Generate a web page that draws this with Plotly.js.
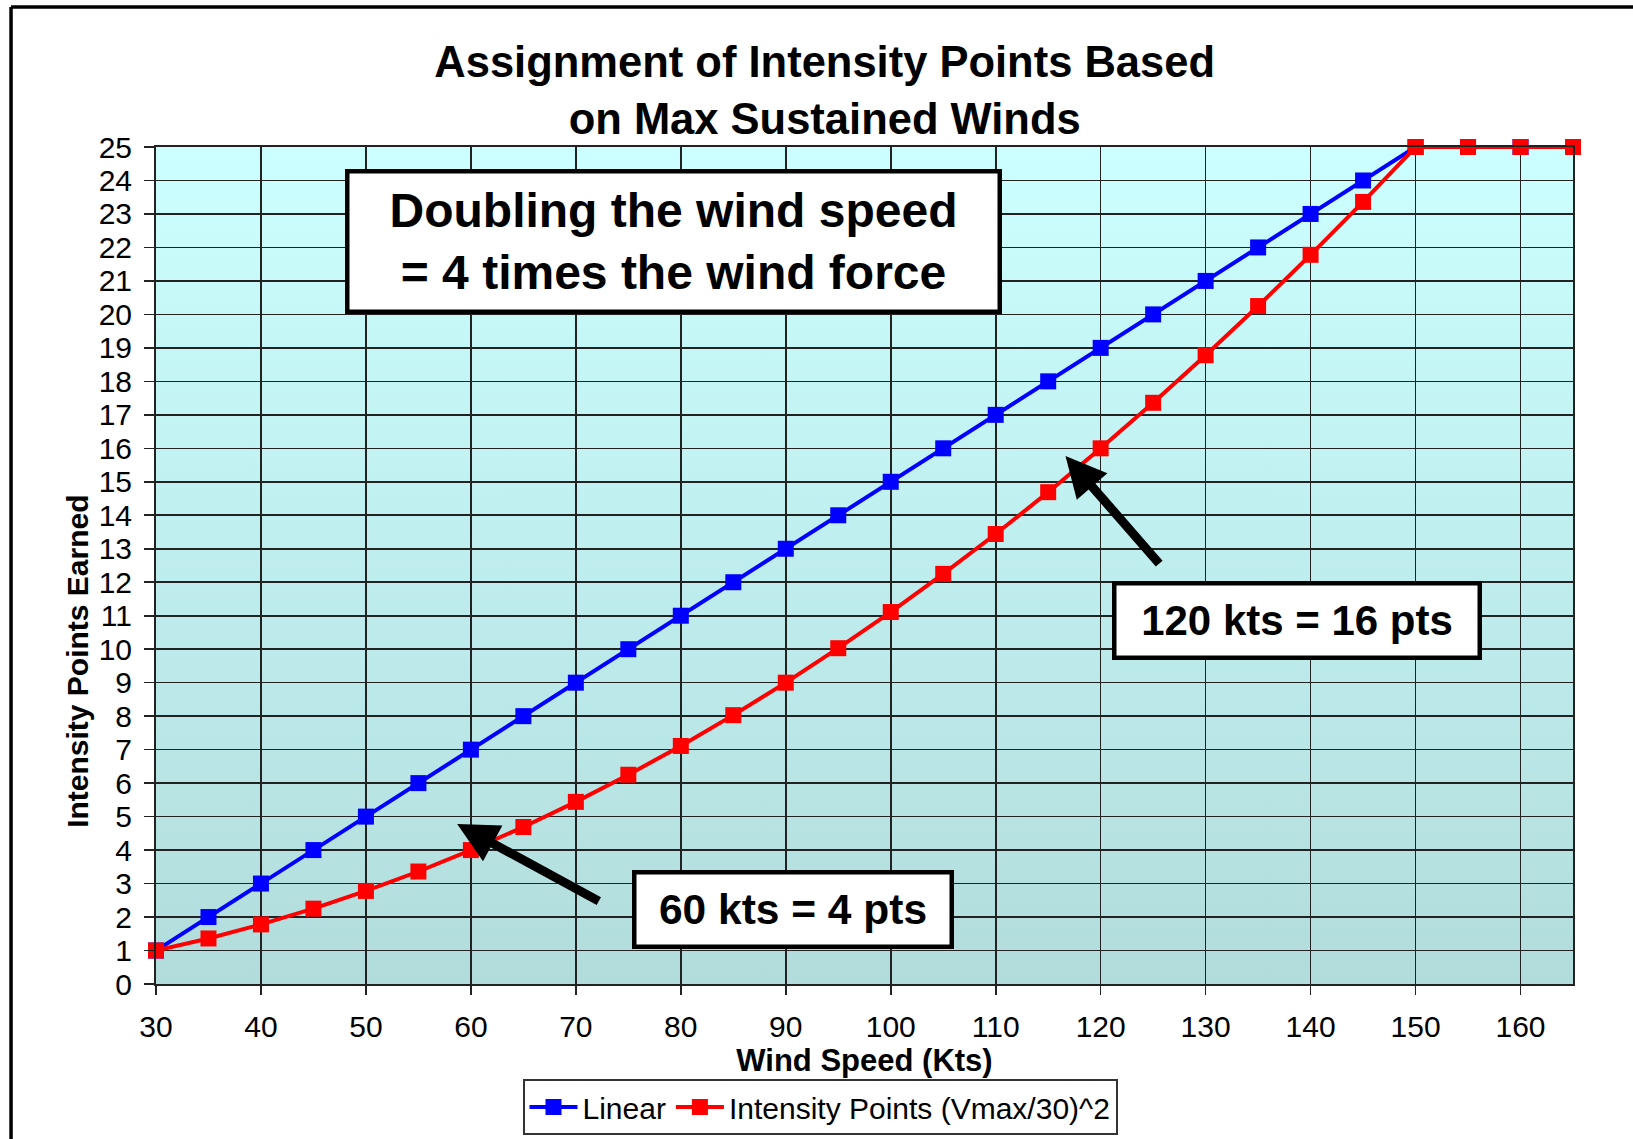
<!DOCTYPE html>
<html>
<head>
<meta charset="utf-8">
<script src="https://cdn.plot.ly/plotly-3.0.1.min.js"></script>
<style>
  html, body { margin: 0; padding: 0; background: #ffffff; }
  #chart { width: 1633px; height: 1139px; }
</style>
</head>
<body>
<div id="chart"></div>
<script>
// ---- Data ----
const windSpeed = [30, 35, 40, 45, 50, 55, 60, 65, 70, 75, 80, 85, 90, 95, 100,
                   105, 110, 115, 120, 125, 130, 135, 140, 145, 150, 155, 160, 165];
const linearPoints = [1, 2, 3, 4, 5, 6, 7, 8, 9, 10, 11, 12, 13, 14, 15,
                      16, 17, 18, 19, 20, 21, 22, 23, 24, 25, 25, 25, 25];
const intensityPoints = [1, 1.36, 1.78, 2.25, 2.78, 3.36, 4, 4.69, 5.44, 6.25, 7.11, 8.03, 9, 10.03, 11.11,
                         12.25, 13.44, 14.69, 16, 17.36, 18.78, 20.25, 21.78, 23.36, 25, 25, 25, 25];
const seriesNames = ["Linear", "Intensity Points (Vmax/30)^2"];
const xTickValues = [30, 40, 50, 60, 70, 80, 90, 100, 110, 120, 130, 140, 150, 160];
const yTickValues = [0, 1, 2, 3, 4, 5, 6, 7, 8, 9, 10, 11, 12, 13, 14, 15, 16, 17, 18, 19, 20, 21, 22, 23, 24, 25];

const FONT = '"Liberation Sans", Arial, Helvetica, sans-serif';

const gradSvg = '<svg xmlns="http://www.w3.org/2000/svg" width="100" height="100" preserveAspectRatio="none">' +
  '<defs><linearGradient id="g" x1="0" y1="0" x2="0" y2="1">' +
  '<stop offset="0" stop-color="#ccffff"/><stop offset="1" stop-color="#b2dcdc"/>' +
  '</linearGradient></defs><rect width="100" height="100" fill="url(#g)"/></svg>';
const gradUri = 'data:image/svg+xml;charset=utf-8,' + encodeURIComponent(gradSvg);

const traces = [
  {
    x: windSpeed, y: linearPoints, name: seriesNames[0],
    type: 'scatter', mode: 'lines+markers',
    line: { color: '#0000ff', width: 4 },
    marker: { color: '#0000ff', symbol: 'square', size: 16 },
    cliponaxis: false
  },
  {
    x: windSpeed, y: intensityPoints, name: seriesNames[1],
    type: 'scatter', mode: 'lines+markers',
    line: { color: '#ff0000', width: 4 },
    marker: { color: '#ff0000', symbol: 'square', size: 16 },
    cliponaxis: false
  }
];

const axisCommon = {
  showgrid: true, gridcolor: '#222222', gridwidth: 1.6,
  showline: true, linecolor: '#222222', linewidth: 2, mirror: true,
  ticks: 'outside', tickcolor: '#222222', tickwidth: 1.6,
  zeroline: false, automargin: false,
  tickfont: { family: FONT, size: 30, color: '#000000' }
};

const layout = {
  width: 1633, height: 1139,
  margin: { l: 156, r: 60, t: 147, b: 155, autoexpand: false },
  paper_bgcolor: '#ffffff',
  plot_bgcolor: 'rgba(0,0,0,0)',
  font: { family: FONT, color: '#000000' },
  title: {
    text: '<b>Assignment of Intensity Points Based<br>on Max Sustained Winds</b>',
    font: { family: FONT, size: 43.5, color: '#000000' },
    xref: 'container', x: 0.505, xanchor: 'center',
    yref: 'container', y: 0.932, yanchor: 'middle'
  },
  xaxis: Object.assign({}, axisCommon, {
    range: [30, 165], tickvals: xTickValues, ticklen: 9,
    ticklabelstandoff: 6,
    title: { text: '<b>Wind Speed (Kts)</b>', font: { family: FONT, size: 31, color: '#000000' }, standoff: 4 }
  }),
  yaxis: Object.assign({}, axisCommon, {
    range: [0, 25], tickvals: yTickValues, ticklen: 10,
    ticklabelstandoff: 6
  }),
  showlegend: true,
  legend: {
    orientation: 'h',
    x: 0.4686, xanchor: 'center', xref: 'paper',
    y: -0.1135, yanchor: 'top', yref: 'paper',
    bgcolor: '#ffffff', bordercolor: '#333333', borderwidth: 2,
    font: { family: FONT, size: 30, color: '#000000' },
    itemwidth: 48, tracegroupgap: 0
  },
  images: [{
    source: gradUri, xref: 'paper', yref: 'paper',
    x: 0, y: 1, sizex: 1, sizey: 1, sizing: 'stretch',
    xanchor: 'left', yanchor: 'top', layer: 'below'
  }],
  shapes: [
    { type: 'line', xref: 'paper', yref: 'paper', x0: -0.1023, x1: -0.1023, y0: -0.2, y1: 1.1673,
      line: { color: '#000000', width: 3.5 } },
    { type: 'line', xref: 'paper', yref: 'paper', x0: -0.1023, x1: 1.1, y0: 1.1673, y1: 1.1673,
      line: { color: '#000000', width: 3.5 } }
  ],
  annotations: [
    { text: '<b>Intensity Points Earned</b>', xref: 'paper', yref: 'paper',
      x: -0.0551, y: 0.386, xanchor: 'center', yanchor: 'middle', textangle: -90, showarrow: false,
      font: { family: FONT, size: 30, color: '#000000' } },
    { text: '<b>Doubling the wind speed<br>= 4 times the wind force</b>',
      xref: 'paper', yref: 'paper', x: 0.3649, y: 0.8865, xanchor: 'center', yanchor: 'middle',
      showarrow: false, width: 648, height: 136, borderpad: 0,
      bgcolor: '#ffffff', bordercolor: '#000000', borderwidth: 4.5,
      font: { family: FONT, size: 48, color: '#000000' } },
    { text: '<b>120 kts = 16 pts</b>',
      xref: 'paper', yref: 'paper', x: 0.8049, y: 0.4337, xanchor: 'center', yanchor: 'middle',
      showarrow: false, width: 361, height: 70, borderpad: 0,
      bgcolor: '#ffffff', bordercolor: '#000000', borderwidth: 4.5,
      font: { family: FONT, size: 42, color: '#000000' } },
    { text: '<b>60 kts = 4 pts</b>',
      xref: 'paper', yref: 'paper', x: 0.4492, y: 0.089, xanchor: 'center', yanchor: 'middle',
      showarrow: false, width: 313, height: 70, borderpad: 0,
      bgcolor: '#ffffff', bordercolor: '#000000', borderwidth: 4.5,
      font: { family: FONT, size: 42.5, color: '#000000' } },
    { text: '', x: 116.65, y: 15.77, xref: 'x', yref: 'y',
      ax: 125.7, ay: 12.51, axref: 'x', ayref: 'y',
      showarrow: true, arrowhead: 2, arrowsize: 0.9, arrowwidth: 9, arrowcolor: '#000000' },
    { text: '', x: 58.69, y: 4.78, xref: 'x', yref: 'y',
      ax: 72.33, ay: 2.45, axref: 'x', ayref: 'y',
      showarrow: true, arrowhead: 2, arrowsize: 0.9, arrowwidth: 9, arrowcolor: '#000000' }
  ]
};

Plotly.newPlot('chart', traces, layout, { staticPlot: true, displayModeBar: false });
</script>
</body>
</html>
